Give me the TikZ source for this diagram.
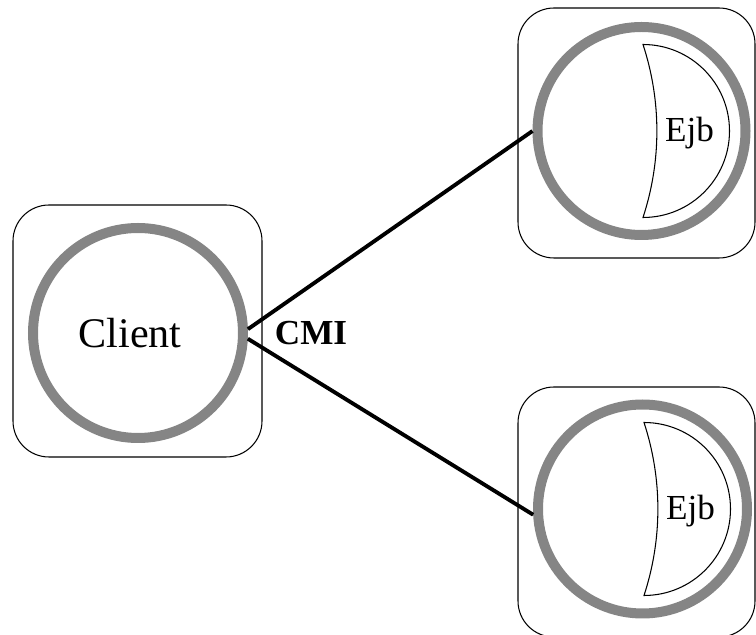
\documentclass[tikz,border=0pt]{standalone}
\usepackage{fontspec}
\setmainfont{Liberation Serif}
\usepackage{tikz}
\usetikzlibrary{positioning}
\definecolor{ring}{HTML}{858585}

\begin{document}
\begin{tikzpicture}[
  box/.style={draw,rounded corners=0.72cm,line width=0.6pt,inner sep=0pt,minimum width=4.74cm,minimum height=5cm},
  comp/.style={circle,draw=ring,line width=0.2cm,inner sep=0pt,minimum size=4.18cm},
  link/.style={line width=2.2pt}]
\useasboundingbox (0,0) rectangle (15.12,12.7);
% client side
\node[box,minimum width=4.98cm,minimum height=5.04cm] (clientbox) at (2.75,6.08) {};
\node[comp,minimum size=4.2cm] (client) at (2.76,6.04) {};
\node[font=\fontsize{24}{24}\selectfont] (clientlbl) at ([xshift=-0.16cm]client.center) {Client};
% two ejb containers
\node[box] (ejbAbox) at (12.73,10.04) {};
\node[comp,minimum size=4.16cm] (ejbA) at (12.83,10.08) {};
\node[box] (ejbBbox) at (12.73,2.46) {};
\node[comp] (ejbB) at (12.85,2.52) {};
\foreach \n in {ejbA,ejbB}{
  \draw[line width=0.6pt] ([shift={(0.03,1.73)}]\n.center) arc[start angle=90,end angle=-90,radius=1.73]
    .. controls +(0.37,1.13) and +(0.37,-1.13) .. ([shift={(0.03,1.73)}]\n.center) -- cycle;
  \node[font=\fontsize{20}{20}\selectfont] (\n lbl) at ([shift={(0.96,-0.05)}]\n.center) {Ejb};
}
% links
\draw[link] (client.2.6) -- (ejbA.180);
\draw[link] (client.-3.6) -- (ejbB.183);
\node[font=\bfseries\fontsize{20}{20}\selectfont] (cmi) at (6.22,6.04) {CMI};
\end{tikzpicture}
\end{document}
